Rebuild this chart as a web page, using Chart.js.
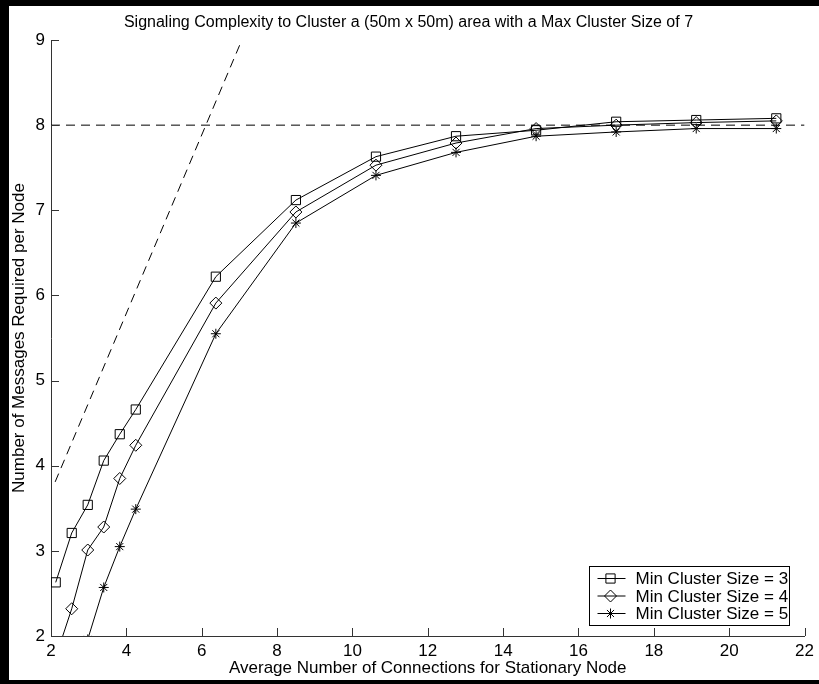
<!DOCTYPE html>
<html>
<head>
<meta charset="utf-8">
<script src="https://cdn.jsdelivr.net/npm/chart.js@4"></script>
<style>
  html, body { margin: 0; padding: 0; background: #fff; }
  #wrap { width: 819px; height: 684px; }
</style>
</head>
<body>
<div id="wrap"><canvas id="chart" width="819" height="684"></canvas></div>
<script>
// data
const connections = [2.125, 2.55, 2.975, 3.4, 3.825, 4.25, 6.375, 8.5, 10.625, 12.75, 14.875, 17, 19.125, 21.25];
const minCluster3 = [2.63, 3.21, 3.54, 4.06, 4.37, 4.66, 6.22, 7.12, 7.63, 7.87, 7.94, 8.04, 8.06, 8.08];
const minCluster4 = [1.75, 2.32, 3.01, 3.28, 3.85, 4.24, 5.91, 6.98, 7.53, 7.79, 7.96, 8.00, 8.03, 8.05];
const minCluster5 = [0.85, 1.4, 1.96, 2.57, 3.05, 3.49, 5.55, 6.85, 7.41, 7.68, 7.87, 7.92, 7.96, 7.96];
const seriesLabels = ['Min Cluster Size = 3', 'Min Cluster Size = 4', 'Min Cluster Size = 5'];
const seriesMarkers = ['rect', 'rectRot', 'star'];

// dashed reference lines
const maxLineX = [2, 22];
const maxLineY = [8, 8];
const slopeLineX = [2.11, 7.065];
const slopeLineY = [3.81, 9];

const xTicks = [2, 4, 6, 8, 10, 12, 14, 16, 18, 20, 22];
const yTicks = [2, 3, 4, 5, 6, 7, 8, 9];

const titleText = 'Signaling Complexity to Cluster a (50m x 50m) area with a Max Cluster Size of 7';
const xTitle = 'Average Number of Connections for Stationary Node';
const yTitle = 'Number of Messages Required per Node';

const FONT = '"Liberation Sans", Arial, Helvetica, sans-serif';
Chart.defaults.font.family = FONT;
Chart.defaults.color = '#000';

function toPoints(xs, ys) {
  return xs.map((x, i) => ({ x: x, y: ys[i] }));
}

const markerSize = { rect: 6.5, rectRot: 6, star: 5 };

const series = [minCluster3, minCluster4, minCluster5].map((vals, i) => ({
  label: seriesLabels[i],
  data: toPoints(connections, vals),
  borderColor: '#000',
  borderWidth: 1,
  pointStyle: seriesMarkers[i],
  pointRadius: markerSize[seriesMarkers[i]],
  pointBorderColor: '#000',
  pointBackgroundColor: 'rgba(0,0,0,0)',
  pointBorderWidth: 1,
  tension: 0
}));

const refLines = [[maxLineX, maxLineY], [slopeLineX, slopeLineY]].map(([xs, ys]) => ({
  label: '',
  data: toPoints(xs, ys),
  borderColor: '#000',
  borderWidth: 1,
  borderDash: [9, 6],
  pointRadius: 0,
  tension: 0
}));

// black frame round the figure
const frame = {
  id: 'frame',
  beforeDraw(chart) {
    const ctx = chart.ctx;
    ctx.save();
    ctx.fillStyle = '#fff';
    ctx.fillRect(0, 0, chart.width, chart.height);
    ctx.restore();
  },
  afterDraw(chart) {
    const ctx = chart.ctx;
    ctx.save();
    ctx.fillStyle = '#000';
    ctx.fillRect(0, 0, chart.width, 6);
    ctx.fillRect(0, 0, 9, chart.height);
    ctx.fillRect(0, chart.height - 4, chart.width, 4);
    ctx.restore();
  }
};

// matlab style ticks pointing into the axes
const innerTicks = {
  id: 'innerTicks',
  afterDatasetsDraw(chart) {
    const { ctx, chartArea, scales } = chart;
    ctx.save();
    ctx.strokeStyle = '#333';
    ctx.lineWidth = 1;
    ctx.beginPath();
    xTicks.forEach(v => {
      const px = Math.round(scales.x.getPixelForValue(v)) + 0.5;
      ctx.moveTo(px, chartArea.bottom);
      ctx.lineTo(px, chartArea.bottom - 8);
    });
    yTicks.forEach(v => {
      const py = Math.round(scales.y.getPixelForValue(v)) + 0.5;
      ctx.moveTo(chartArea.left, py);
      ctx.lineTo(chartArea.left + 8, py);
    });
    ctx.stroke();
    ctx.restore();
  }
};

// legend box in the lower right corner
const legendBox = {
  id: 'legendBox',
  afterDatasetsDraw(chart) {
    const { ctx, chartArea } = chart;
    const w = 200, h = 59, rowH = 17.5;
    const x0 = Math.round(chartArea.right - w - 16) + 0.5;
    const y0 = Math.round(chartArea.bottom - h - 11) + 0.5;
    ctx.save();
    ctx.fillStyle = '#fff';
    ctx.fillRect(x0, y0, w, h);
    ctx.strokeStyle = '#000';
    ctx.lineWidth = 1;
    ctx.strokeRect(x0, y0, w, h);
    ctx.font = '17px ' + FONT;
    ctx.textBaseline = 'middle';
    ctx.textAlign = 'left';
    seriesLabels.forEach((lab, i) => {
      const ds = chart.data.datasets[i];
      const cy = y0 + 12 + i * rowH;
      ctx.strokeStyle = '#000';
      ctx.beginPath();
      ctx.moveTo(x0 + 8, cy);
      ctx.lineTo(x0 + 36, cy);
      ctx.stroke();
      ctx.fillStyle = 'rgba(0,0,0,0)';
      Chart.helpers.drawPoint(ctx, {
        pointStyle: ds.pointStyle,
        radius: ds.pointRadius,
        rotation: 0,
        borderWidth: 1
      }, x0 + 21, cy);
      ctx.fillStyle = '#000';
      ctx.fillText(lab, x0 + 46, cy + 1);
    });
    ctx.restore();
  }
};

const chart = new Chart(document.getElementById('chart').getContext('2d'), {
  type: 'line',
  data: { datasets: series.concat(refLines) },
  options: {
    responsive: false,
    animation: false,
    layout: { padding: { left: 9, right: 11, top: 0, bottom: 4 } },
    plugins: {
      legend: { display: false },
      tooltip: { enabled: false },
      title: {
        display: true,
        text: titleText,
        color: '#000',
        font: { size: 16, weight: 'normal' },
        padding: { top: 12.5, bottom: 8.3 }
      }
    },
    scales: {
      x: {
        type: 'linear',
        min: 2,
        max: 22,
        afterBuildTicks: s => { s.ticks = xTicks.map(v => ({ value: v })); },
        afterFit: s => { s.height = 44; },
        ticks: { font: { size: 17 }, color: '#000', padding: 5, maxRotation: 0 },
        grid: { display: false, drawTicks: false },
        border: { display: true, color: '#333', width: 1 },
        title: { display: true, text: xTitle, color: '#000', font: { size: 17 }, padding: { top: 0, bottom: 1 } }
      },
      y: {
        type: 'linear',
        min: 2,
        max: 9,
        afterBuildTicks: s => { s.ticks = yTicks.map(v => ({ value: v })); },
        afterFit: s => { s.width = 42; },
        ticks: { font: { size: 17 }, color: '#000', padding: 6 },
        grid: { display: false, drawTicks: false },
        border: { display: true, color: '#333', width: 1 },
        title: { display: true, text: yTitle, color: '#000', font: { size: 17 }, padding: { top: 0, bottom: 0 } }
      }
    }
  },
  plugins: [frame, innerTicks, legendBox]
});
</script>
</body>
</html>
